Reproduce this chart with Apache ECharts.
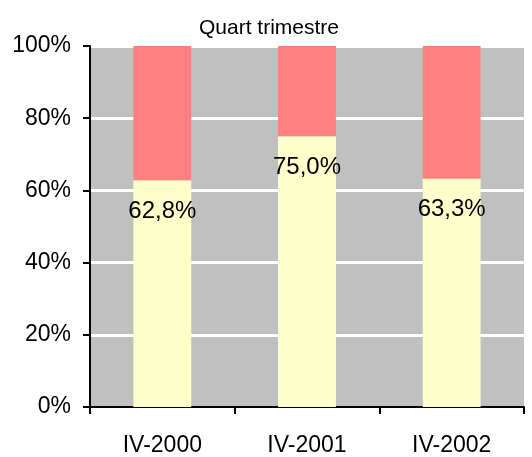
<!DOCTYPE html>
<html>
<head>
<meta charset="utf-8">
<script src="https://cdn.jsdelivr.net/npm/echarts@6/dist/echarts.min.js"></script>
<style>
  html, body { margin: 0; padding: 0; background: #fff; }
  #main { width: 532px; height: 457px; }
</style>
</head>
<body>
<div id="main"></div>
<script>
  // data
  const categories = ["IV-2000", "IV-2001", "IV-2002"];
  const lowerShare = [62.8, 75.0, 63.3];
  const upperShare = [37.2, 25.0, 36.7];
  const yTicks = [0, 20, 40, 60, 80, 100];

  const myChart = echarts.init(document.getElementById("main"));
  const font = "Liberation Sans, Arial, sans-serif";

  const option = {
    animation: false,
    title: {
      text: "Quart trimestre",
      left: 264,
      textAlign: "center",
      top: 13,
      textStyle: { fontFamily: font, fontSize: 21, fontWeight: "normal", color: "#000" }
    },
    grid: {
      left: 90,
      right: 8,
      top: 46,
      bottom: 48,
      show: true,
      backgroundColor: "#C0C0C0",
      borderWidth: 0
    },
    xAxis: {
      type: "category",
      data: categories,
      axisLine: { lineStyle: { color: "#000", width: 2 } },
      axisTick: { show: true, length: 7, lineStyle: { color: "#000", width: 2 } },
      axisLabel: { fontFamily: font, fontSize: 23, color: "#000", margin: 27 }
    },
    yAxis: {
      type: "value",
      min: 0,
      max: 100,
      interval: 20,
      axisLine: { show: true, lineStyle: { color: "#000", width: 2 } },
      axisTick: { show: true, length: 7, lineStyle: { color: "#000", width: 2 } },
      axisLabel: {
        fontFamily: font,
        fontSize: 23,
        color: "#000",
        margin: 19,
        formatter: (v) => (yTicks.includes(v) ? v + "%" : "")
      },
      splitLine: { show: true, lineStyle: { color: "#fff", width: 3 } }
    },
    series: [
      {
        type: "bar",
        stack: "total",
        data: lowerShare,
        barWidth: "40%",
        itemStyle: { color: "#FFFFCC" },
        label: {
          show: true,
          position: "insideTop",
          distance: 19,
          fontFamily: font,
          fontSize: 24,
          color: "#000",
          formatter: (p) => p.value.toFixed(1).replace(".", ",") + "%"
        }
      },
      {
        type: "bar",
        stack: "total",
        data: upperShare,
        barWidth: "40%",
        itemStyle: { color: "#FF8080" }
      }
    ]
  };

  option && myChart.setOption(option);
</script>
</body>
</html>
